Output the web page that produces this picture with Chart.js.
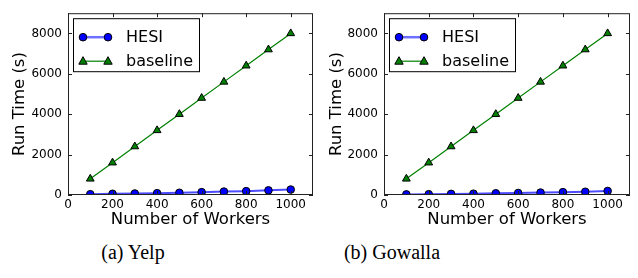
<!DOCTYPE html>
<html>
<head>
<meta charset="utf-8">
<script src="https://cdn.jsdelivr.net/npm/chart.js@4.4.0/dist/chart.umd.min.js"></script>
<style>
  body { margin: 0; background: #fff; width: 638px; height: 278px; position: relative; overflow: hidden; }
  .box { position: absolute; top: 0; height: 230px; }
  .cap { position: absolute; top: 241px; font-family: "Liberation Serif", serif; font-size: 20px; color: #000; text-align: center; }
</style>
</head>
<body>
<div class="box" style="left:0;width:320px"><canvas id="chartYelp" width="320" height="230"></canvas></div>
<div class="box" style="left:320px;width:318px"><canvas id="chartGowalla" width="318" height="230"></canvas></div>
<div class="cap" style="left:73px;width:120px">(a) Yelp</div>
<div class="cap" style="left:332px;width:120px">(b) Gowalla</div>
<script>
var workers = [100, 200, 300, 400, 500, 600, 700, 800, 900, 1000]
var hesiYelp = [40, 60, 75, 90, 110, 140, 170, 190, 230, 270]
var baselineYelp = [800, 1600, 2400, 3200, 4000, 4800, 5600, 6400, 7200, 8000]
var hesiGowalla = [30, 40, 55, 65, 85, 100, 120, 140, 160, 200]
var baselineGowalla = [800, 1600, 2400, 3200, 4000, 4800, 5600, 6400, 7200, 8000]
var xTicks = [0, 200, 400, 600, 800, 1000]
var yTicks = [0, 2000, 4000, 6000, 8000]
var seriesNames = ['HESI', 'baseline']

var blue = '#0000ff'
var green = '#008000'

function toPoints(values){
    return values.map(function(v, i){ return {x: workers[i], y: v} })
}

// frame, inward ticks and matplotlib-like legend box
var framePlugin = {
    id: 'frame',
    afterDraw: function(chart){
        let c = chart.ctx
        let a = chart.chartArea
        let xs = chart.scales.x
        let ys = chart.scales.y
        c.save()
        c.strokeStyle = '#222'
        c.lineWidth = 1
        c.strokeRect(a.left + 0.5, a.top + 0.5, a.right - a.left - 1, a.bottom - a.top - 1)
        c.beginPath()
        xTicks.forEach(function(t){
            let px = Math.round(xs.getPixelForValue(t)) + 0.5
            c.moveTo(px, a.bottom); c.lineTo(px, a.bottom - 4)
            c.moveTo(px, a.top); c.lineTo(px, a.top + 4)
        })
        yTicks.forEach(function(t){
            let py = Math.round(ys.getPixelForValue(t)) + 0.5
            c.moveTo(a.left, py); c.lineTo(a.left + 4, py)
            c.moveTo(a.right, py); c.lineTo(a.right - 4, py)
        })
        c.stroke()

        // legend
        let lx = a.left + 5, ly = a.top + 5
        c.fillStyle = '#fff'
        c.fillRect(lx, ly, 126, 53)
        c.strokeStyle = '#000'
        c.strokeRect(lx + 0.5, ly + 0.5, 126, 53)
        let rows = [
            {y: ly + 19, color: blue, line: '#6f6fff', width: 2.5, shape: 'circle'},
            {y: ly + 43, color: green, line: green, width: 1.2, shape: 'triangle'}
        ]
        rows.forEach(function(r, i){
            c.strokeStyle = r.line
            c.lineWidth = r.width
            c.beginPath()
            c.moveTo(a.left + 15, r.y); c.lineTo(a.left + 40, r.y)
            c.stroke()
            ;[a.left + 15, a.left + 40].forEach(function(mx){
                c.fillStyle = r.color
                c.strokeStyle = '#000'
                c.lineWidth = 1
                c.beginPath()
                if (r.shape == 'circle') {
                    c.arc(mx, r.y, 3.8, 0, Math.PI * 2)
                } else {
                    c.moveTo(mx, r.y - 4.5)
                    c.lineTo(mx + 4.2, r.y + 3)
                    c.lineTo(mx - 4.2, r.y + 3)
                    c.closePath()
                }
                c.fill()
                c.stroke()
            })
            c.fillStyle = '#000'
            c.font = '16px "DejaVu Sans"'
            c.textBaseline = 'middle'
            c.textAlign = 'left'
            c.fillText(seriesNames[i], a.left + 58, r.y + 1)
        })
        c.restore()
    }
}

function plainTick(val){
    return String(val)
}

function makeChart(id, hesi, baseline, yAxisWidth, rightPad, titlePad){
    let ctx = document.getElementById(id)
    return new Chart(ctx, {
        type: 'line',
        data: {
            datasets: [{
                label: seriesNames[1],
                data: toPoints(baseline),
                borderColor: green,
                borderWidth: 1.2,
                backgroundColor: green,
                pointStyle: 'triangle',
                pointRadius: 4.5,
                pointBorderColor: '#000',
                pointBorderWidth: 1,
                fill: false
            }, {
                label: seriesNames[0],
                data: toPoints(hesi),
                borderColor: '#4d4dff',
                borderWidth: 2,
                backgroundColor: blue,
                pointStyle: 'circle',
                pointRadius: 3.8,
                pointBorderColor: '#000',
                pointBorderWidth: 1,
                fill: false
            }]
        },
        options: {
            responsive: false,
            animation: false,
            layout: { padding: { left: 0, right: rightPad, top: 5, bottom: 0 } },
            plugins: { legend: { display: false }, tooltip: { enabled: false } },
            scales: {
                x: {
                    type: 'linear',
                    min: 0,
                    max: 1100,
                    grid: { display: false, drawTicks: false },
                    border: { display: false },
                    afterBuildTicks: function(scale){ scale.ticks = xTicks.map(function(v){ return {value: v} }) },
                    afterFit: function(scale){ scale.height = 35 },
                    ticks: { color: '#000', padding: 3, font: { family: 'DejaVu Sans', size: 12 }, maxRotation: 0, callback: plainTick },
                    title: { display: true, text: 'Number of Workers', color: '#000', font: { family: 'DejaVu Sans', size: 16.5 }, padding: { top: 0, bottom: 0 } }
                },
                y: {
                    min: 0,
                    max: 9000,
                    grid: { display: false, drawTicks: false },
                    border: { display: false },
                    afterBuildTicks: function(scale){ scale.ticks = yTicks.map(function(v){ return {value: v} }) },
                    afterFit: function(scale){ scale.width = yAxisWidth },
                    ticks: { color: '#000', padding: 6, font: { family: 'DejaVu Sans', size: 12 }, callback: plainTick },
                    title: { display: true, text: 'Run Time (s)', color: '#000', font: { family: 'DejaVu Sans', size: 16.5 }, padding: { top: titlePad, bottom: 0 } }
                }
            }
        },
        plugins: [framePlugin]
    })
}

var chartYelp = makeChart('chartYelp', hesiYelp, baselineYelp, 68, 7, 10)
var chartGowalla = makeChart('chartGowalla', hesiGowalla, baselineGowalla, 64, 8, 7)
</script>
</body>
</html>
